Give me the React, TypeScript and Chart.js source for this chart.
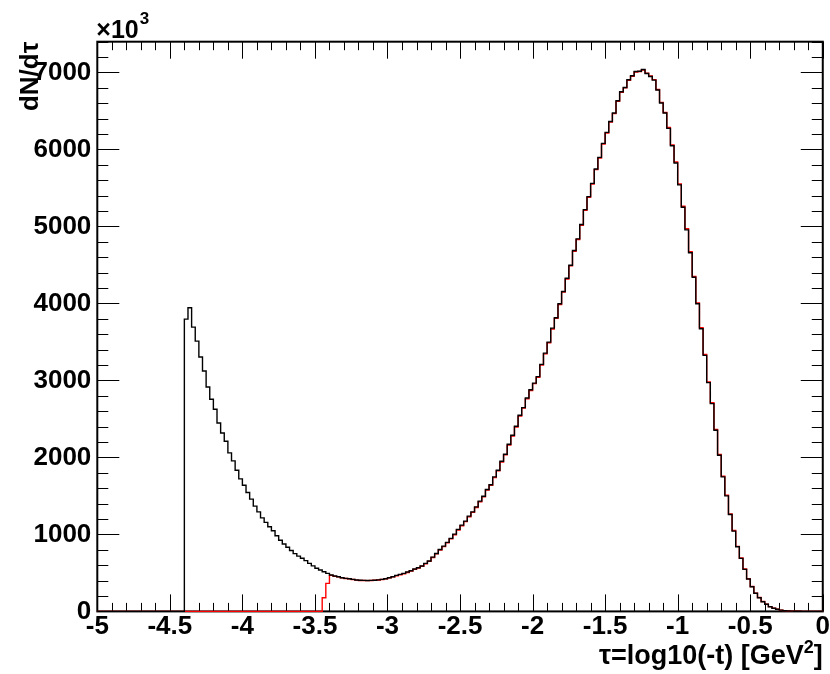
import { useEffect, useRef } from "react";
import { Chart, registerables } from "chart.js";

Chart.register(...registerables);

// ---- axis definition ----
const X_MIN = -5;
const X_MAX = 0;
const BIN_WIDTH = 0.025;
const Y_MIN = 0;
const Y_MAX = 7400;
const X_MAJOR = 0.5;
const X_MINOR = 0.1;
const Y_MAJOR = 1000;
const Y_MINOR = 200;
const xTickLabels = [-5, -4.5, -4, -3.5, -3, -2.5, -2, -1.5, -1, -0.5, 0];
const yTickLabels = [0, 1000, 2000, 3000, 4000, 5000, 6000, 7000];

const xTitle = "τ=log10(-t) [GeV";
const xTitleSup = "2";
const xTitleEnd = "]";
const yTitle = "dN/dτ";
const yExponentBase = "×10";
const yExponent = "3";

// ---- histogram contents (200 bins from -5 to 0), units of 10^3 ----
const blackCounts = [
  0, 0, 0, 0, 0, 0, 0, 0, 0, 0, 0, 0,
  0, 0, 0, 0, 0, 0, 0, 0, 0, 0, 0, 0,
  3797, 3944, 3693, 3511, 3304, 3122, 2914, 2755, 2625, 2448,
  2318, 2210, 2059, 1955, 1834, 1721, 1639, 1545, 1458, 1367,
  1293, 1215, 1156, 1099, 1047, 982, 925, 876, 833, 792,
  750, 718, 690, 660, 624, 591, 560, 537, 516, 494,
  472, 459, 451, 438, 429, 425, 416, 408, 404, 403,
  402, 403, 405, 410, 416, 425, 438, 451, 468, 481,
  494, 511, 528, 550, 567, 590, 624, 654, 705, 753,
  805, 848, 896, 948, 1004, 1065, 1121, 1172, 1237, 1293,
  1358, 1432, 1495, 1584, 1645, 1747, 1834, 1951, 2042, 2171,
  2288, 2405, 2547, 2647, 2772, 2880, 2965, 3050, 3209, 3355,
  3498, 3680, 3814, 3996, 4156, 4328, 4497, 4687, 4839, 5025,
  5219, 5388, 5560, 5747, 5898, 6079, 6222, 6364, 6473, 6633,
  6750, 6806, 6905, 6957, 7013, 7017, 7039, 6987, 6948, 6901,
  6772, 6603, 6473, 6274, 6049, 5825, 5540, 5249, 4956, 4658,
  4341, 3996, 3672, 3326, 2971, 2699, 2353, 2029, 1747, 1501,
  1259, 1043, 839, 689, 546, 420, 320, 235, 178, 126,
  92, 61, 40, 27, 16, 10, 7, 4, 2, 1,
  0, 0, 0, 0, 0, 0,
];

const redCounts = [
  0, 0, 0, 0, 0, 0, 0, 0, 0, 0,
  0, 0, 0, 0, 0, 0, 0, 0, 0, 0,
  0, 0, 0, 0, 0, 0, 0, 0, 0, 0,
  0, 0, 0, 0, 0, 0, 0, 0, 0, 0,
  0, 0, 0, 0, 0, 0, 0, 0, 0, 0,
  0, 0, 0, 0, 0, 0, 0, 0, 0, 0,
  0, 0,
  178, 364,
  468, 455, 448, 436, 427, 422, 414, 406, 402, 401,
  400, 401, 404, 408, 414, 422, 436, 450, 462, 476,
  490, 505, 524, 546, 562, 586, 618, 650, 700, 748,
  798, 842, 890, 942, 996, 1058, 1112, 1166, 1228, 1286,
  1350, 1424, 1488, 1575, 1638, 1738, 1826, 1940, 2035, 2160,
  2278, 2396, 2536, 2640, 2760, 2870, 2958, 3040, 3200, 3345,
  3490, 3668, 3806, 3985, 4148, 4318, 4489, 4676, 4830, 5016,
  5210, 5378, 5552, 5738, 5890, 6070, 6214, 6355, 6466, 6625,
  6742, 6800, 6898, 6950, 7006, 7012, 7032, 6992, 6955, 6908,
  6780, 6612, 6480, 6285, 6060, 5838, 5552, 5262, 4970, 4672,
  4352, 4008, 3684, 3338, 2982, 2710, 2364, 2040, 1756, 1510,
  1266, 1050, 845, 694, 550, 424, 323, 238, 180, 128,
  93, 62, 41, 27, 17, 10, 7, 4, 2, 1,
  0, 0, 0, 0, 0, 0,
];

const FONT = "'Liberation Sans', Arial, Helvetica, sans-serif";

function histPoints(counts: number[]) {
  const pts = counts.map((c, i) => ({ x: X_MIN + i * BIN_WIDTH, y: c }));
  pts.push({ x: X_MIN + counts.length * BIN_WIDTH, y: 0 });
  return pts;
}

function tickList(min: number, max: number, step: number) {
  const out: number[] = [];
  const n = Math.round((max - min) / step);
  for (let i = 0; i <= n; i++) out.push(min + i * step);
  return out;
}

const rootFrame = {
  id: "rootFrame",
  beforeDatasetsDraw(chart: any) {
    const { ctx, chartArea: a, scales } = chart;
    const xs = scales.x;
    const ys = scales.y;
    ctx.save();
    ctx.strokeStyle = "#000";
    ctx.lineWidth = 1;
    ctx.beginPath();
    tickList(X_MIN, X_MAX, X_MINOR).forEach((v) => {
      const isMajor = Math.abs(v / X_MAJOR - Math.round(v / X_MAJOR)) < 1e-6;
      const len = isMajor ? 17 : 8.5;
      const px = Math.round(xs.getPixelForValue(v)) + 0.5;
      ctx.moveTo(px, a.bottom);
      ctx.lineTo(px, a.bottom - len);
      ctx.moveTo(px, a.top);
      ctx.lineTo(px, a.top + len);
    });
    tickList(0, Y_MAX - (Y_MAX % Y_MINOR), Y_MINOR).forEach((v) => {
      const isMajor = v % Y_MAJOR === 0;
      const len = isMajor ? 22 : 11;
      const py = Math.round(ys.getPixelForValue(v)) + 0.5;
      ctx.moveTo(a.left, py);
      ctx.lineTo(a.left + len, py);
      ctx.moveTo(a.right, py);
      ctx.lineTo(a.right - len, py);
    });
    ctx.stroke();
    ctx.lineWidth = 2;
    ctx.strokeRect(a.left, a.top, a.right - a.left, a.bottom - a.top);
    ctx.restore();
  },
  afterDraw(chart: any) {
    const { ctx, chartArea: a } = chart;
    ctx.save();
    ctx.fillStyle = "#000";
    // x title
    const big = `bold 27px ${FONT}`;
    const small = `bold 18px ${FONT}`;
    ctx.font = big;
    const w1 = ctx.measureText(xTitle).width;
    const w3 = ctx.measureText(xTitleEnd).width;
    ctx.font = small;
    const w2 = ctx.measureText(xTitleSup).width;
    const xStart = a.right - (w1 + w2 + w3);
    const base = 664;
    ctx.textBaseline = "alphabetic";
    ctx.textAlign = "left";
    ctx.font = big;
    ctx.fillText(xTitle, xStart, base);
    ctx.font = small;
    ctx.fillText(xTitleSup, xStart + w1, base - 11);
    ctx.font = big;
    ctx.fillText(xTitleEnd, xStart + w1 + w2, base);
    // y title (rotated)
    ctx.save();
    ctx.translate(38, a.top);
    ctx.rotate(-Math.PI / 2);
    ctx.textAlign = "right";
    ctx.font = `bold 26px ${FONT}`;
    ctx.fillText(yTitle, 0, 0);
    ctx.restore();
    // exponent
    ctx.font = `bold 25px ${FONT}`;
    ctx.textAlign = "left";
    const we = ctx.measureText(yExponentBase).width;
    ctx.fillText(yExponentBase, a.left - 1, 38);
    ctx.font = `bold 17px ${FONT}`;
    ctx.fillText(yExponent, a.left - 1 + we + 1, 24);
    ctx.restore();
  },
};

export default function App() {
  const ref = useRef<HTMLCanvasElement | null>(null);
  useEffect(() => {
    if (!ref.current) return;
    const chart = new Chart(ref.current, {
      type: "line",
      data: {
        datasets: [
          {
            label: "black",
            data: histPoints(blackCounts),
            borderColor: "#000000",
            borderWidth: 1.4,
            stepped: "before",
            pointRadius: 0,
            fill: false,
            clip: false,
          } as any,
          {
            label: "red",
            data: histPoints(redCounts),
            borderColor: "#ff0000",
            borderWidth: 1.4,
            stepped: "before",
            pointRadius: 0,
            fill: false,
            clip: false,
          } as any,
        ],
      },
      options: {
        animation: false,
        responsive: false,
        maintainAspectRatio: false,
        layout: { padding: { left: 0, right: 6.7, top: 41.7, bottom: 0 } },
        plugins: { legend: { display: false }, tooltip: { enabled: false } },
        elements: { line: { tension: 0 } },
        scales: {
          x: {
            type: "linear",
            min: X_MIN,
            max: X_MAX,
            grid: { display: false, drawTicks: false },
            border: { display: false },
            afterFit: (s: any) => {
              s.height = 62.6;
            },
            afterBuildTicks: (s: any) => {
              s.ticks = xTickLabels.map((v) => ({ value: v }));
            },
            ticks: {
              autoSkip: false,
              maxRotation: 0,
              padding: 0,
              color: "#000",
              font: { family: FONT, size: 26, weight: "bold" },
              callback: (v: any) => String(Math.round(Number(v) * 10) / 10),
            },
          },
          y: {
            type: "linear",
            min: Y_MIN,
            max: Y_MAX,
            grid: { display: false, drawTicks: false },
            border: { display: false },
            afterFit: (s: any) => {
              s.width = 97.3;
            },
            afterBuildTicks: (s: any) => {
              s.ticks = yTickLabels.map((v) => ({ value: v }));
            },
            ticks: {
              autoSkip: false,
              padding: 6,
              color: "#000",
              font: { family: FONT, size: 26, weight: "bold" },
              callback: (v: any) => String(Math.round(Number(v))),
            },
          },
        },
      },
      plugins: [rootFrame],
    });
    return () => chart.destroy();
  }, []);
  return (
    <div style={{ position: "absolute", left: 0, top: 0, width: 830, height: 674, background: "#fff" }}>
      <canvas ref={ref} width={830} height={674} style={{ display: "block" }} />
    </div>
  );
}
